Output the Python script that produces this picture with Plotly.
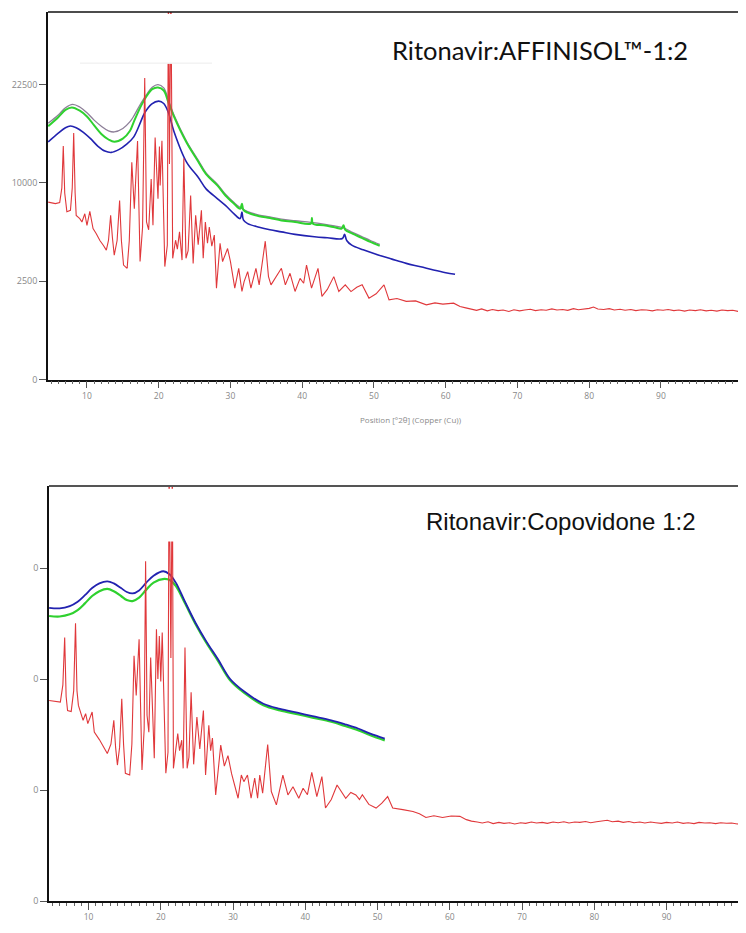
import numpy as np
import plotly.graph_objects as go

# ---------------- data (2theta in degrees, intensity in counts) ----------------
# Top panel: Ritonavir:AFFINISOL 1:2
top_red_x = [4.6, 5.6, 6.2, 6.5, 6.7, 6.9, 7.2, 7.7, 7.95, 8.15, 8.35, 8.5, 9.0, 9.3, 9.7, 10.0, 10.4, 10.85,
             11.3, 11.8, 12.3, 12.7, 13.0, 13.3, 13.55, 13.8, 14.2, 14.55, 14.8, 15.1, 15.6, 15.9, 16.25, 16.6,
             17.05, 17.4, 17.75, 18.05, 18.3, 18.6, 18.95, 19.2, 19.5, 19.9, 20.1, 20.2, 20.45, 20.85, 21.2,
             21.35, 21.5, 21.7, 21.95, 22.35, 22.6, 22.9, 23.25, 23.5, 23.8, 24.1, 24.45, 24.8, 25.15, 25.5,
             25.95, 26.2, 26.5, 26.8, 27.05, 27.4, 27.75, 28.05, 28.55, 28.9, 29.6, 30.0, 30.6, 31.15, 31.6,
             31.9, 32.4, 32.85, 33.55, 34.0, 34.85, 35.3, 35.65, 36.4, 37.1, 37.65, 38.3, 39.0, 39.7, 40.2,
             40.6, 41.3, 42.2, 42.75, 43.5, 44.4, 45.1, 46.0, 46.8, 47.6, 48.35, 49.3, 50.3, 51.4, 52.1, 53.2,
             54.5, 55.8, 57.3, 58.5, 59.6, 61.1, 62.0, 62.8, 63.5, 64.3, 65.0, 65.8, 66.5, 67.3, 68.0, 68.8,
             69.5, 70.3, 71.0, 71.8, 72.5, 73.3, 74.0, 74.8, 75.5, 76.3, 77.0, 77.8, 78.5, 79.3, 80.0, 80.6,
             81.2, 82.0, 82.8, 83.5, 84.3, 85.0, 85.8, 86.5, 87.3, 88.0, 88.8, 89.5, 90.3, 91.0, 91.8, 92.5,
             93.3, 94.0, 94.8, 95.5, 96.3, 97.0, 97.8, 98.5, 99.3, 100.0, 100.8, 101.5, 102.3]
top_red_y = [8140, 8000, 8100, 9500, 14100, 9000, 7290, 7400, 9500, 15700, 9000, 6970, 6700, 6420, 7110, 6150,
             7310, 5890, 5500, 5000, 4650, 4330, 5000, 6970, 5200, 4000, 5000, 8290, 5000, 3390, 3200, 5000,
             12200, 7550, 14700, 3600, 6000, 23500, 6420, 5800, 10400, 6150, 15140, 8450, 14040, 9730, 14730,
             3300, 4670, 40000, 12000, 40000, 3800, 5020, 4400, 5640, 3690, 12650, 3800, 4300, 8760, 3490,
             6970, 4700, 7400, 3800, 6420, 4800, 6020, 4600, 5400, 2160, 4800, 3600, 4440, 3600, 2160, 3200,
             2007, 2480, 3010, 2160, 3200, 2320, 4950, 2740, 2320, 2740, 3200, 2320, 2920, 2007, 2650, 2400,
             3390, 2160, 3200, 1790, 2100, 2740, 2007, 2320, 2000, 2200, 2320, 1715, 1900, 2320, 1645, 1700,
             1580, 1600, 1445, 1520, 1470, 1510, 1380, 1330, 1300, 1240, 1290, 1220, 1270, 1230, 1250, 1200,
             1260, 1220, 1250, 1280, 1230, 1260, 1240, 1290, 1250, 1270, 1240, 1300, 1260, 1280, 1310, 1360,
             1290, 1270, 1300, 1250, 1280, 1240, 1270, 1230, 1260, 1250, 1220, 1260, 1240, 1270, 1230, 1250,
             1210, 1250, 1230, 1260, 1220, 1240, 1210, 1250, 1230, 1240, 1200, 1240, 1220]

top_grey_x = [4.6, 6.0, 7.0, 8.0, 9.0, 10.0, 11.0, 12.0, 13.0, 13.8, 15.0, 16.0, 16.5, 17.5, 18.3, 19.1,
              19.9, 20.7, 21.3, 22.1, 23.9, 25.5, 26.6, 28.2, 29.3, 30.5, 31.35, 32.4, 34.0, 35.5, 37.1,
              39.0, 41.2, 43.0, 44.5, 46.0, 47.0, 48.3, 49.5, 50.8]
top_grey_y = [17000, 18100, 19100, 19580, 19200, 18400, 17400, 16600, 16000, 15850, 16300, 17200, 17900,
              19700, 21000, 22100, 22500, 22000, 20400, 18150, 14650, 12450, 11050, 9850, 8880, 8100, 7650,
              7300, 7000, 6850, 6650, 6520, 6390, 6250, 6100, 5900, 5600, 5290, 5000, 4730]

top_green_x = [4.6, 6.0, 7.0, 7.9, 9.0, 10.0, 11.0, 12.0, 13.0, 13.8, 15.0, 16.0, 16.5, 17.5, 18.3, 19.1,
               19.9, 20.7, 21.3, 22.1, 23.9, 25.5, 26.6, 28.2, 29.3, 30.5, 31.35, 31.6, 31.8, 32.4, 34.0,
               35.5, 37.1, 39.0, 41.2, 41.35, 41.5, 43.0, 44.5, 45.5, 45.75, 46.0, 47.0, 48.3, 49.5, 50.8]
top_green_y = [16600, 17800, 18800, 19150, 18700, 17900, 16700, 15600, 14900, 14610, 15000, 16000, 17100,
               19300, 20750, 21800, 22050, 21600, 20000, 17950, 14500, 12300, 10900, 9730, 8760, 8000, 7550,
               7990, 7450, 7200, 6900, 6750, 6550, 6420, 6290, 6750, 6270, 6150, 6000, 5900, 6150, 5800,
               5500, 5190, 4900, 4630]

top_blue_x = [4.6, 6.0, 7.0, 7.7, 8.5, 9.5, 10.5, 11.5, 12.5, 13.4, 14.5, 15.5, 16.5, 17.5, 18.0, 19.0,
              20.0, 20.7, 21.4, 22.1, 23.9, 25.5, 26.6, 28.2, 29.3, 30.5, 31.35, 31.6, 31.8, 32.4, 34.0,
              35.5, 37.1, 39.0, 41.7, 43.5, 45.6, 45.9, 46.2, 46.9, 48.5, 50.7, 52.5, 54.5, 56.5, 58.3,
              60.0, 61.3]
top_blue_y = [14600, 15700, 16400, 16620, 16400, 15800, 15000, 14100, 13500, 13340, 13700, 14300, 15200,
              17200, 18300, 19600, 20040, 19700, 18300, 15980, 12190, 10580, 9400, 8450, 7840, 7100, 6700,
              7260, 6600, 6290, 6000, 5800, 5640, 5450, 5270, 5200, 5140, 5450, 5000, 4670, 4350, 4000,
              3750, 3490, 3290, 3100, 2950, 2870]

# Bottom panel: Ritonavir:Copovidone 1:2
bot_red_x = [4.55, 5.6, 6.1, 6.45, 6.7, 6.9, 7.1, 7.6, 7.95, 8.2, 8.4, 8.6, 9.25, 9.6, 9.9, 10.5, 10.8,
             11.5, 12.1, 12.6, 13.1, 13.5, 13.75, 14.0, 14.3, 14.6, 14.85, 15.1, 15.7, 16.0, 16.3, 16.6,
             17.0, 17.4, 17.7, 17.9, 18.1, 18.35, 18.6, 19.0, 19.1, 19.4, 19.6, 19.8, 20.0, 20.2, 20.7,
             21.0, 21.15, 21.4, 21.6, 21.75, 22.35, 22.6, 22.9, 23.1, 23.35, 23.65, 23.9, 24.2, 24.55,
             25.0, 25.4, 25.9, 26.2, 26.65, 26.9, 27.15, 27.6, 28.3, 28.8, 29.3, 29.8, 30.7, 31.15, 31.5,
             32.0, 32.5, 33.0, 33.4, 33.7, 34.1, 34.8, 35.3, 36.0, 36.9, 37.6, 38.3, 39.1, 39.7, 40.3,
             40.9, 41.6, 42.3, 42.8, 43.6, 44.4, 45.6, 46.3, 47.0, 47.5, 47.9, 48.8, 49.8, 50.6, 51.4,
             52.1, 53.5, 54.9, 55.8, 56.7, 57.8, 59.0, 60.2, 61.4, 62.3, 63.0, 63.8, 64.5, 65.3, 66.0,
             66.8, 67.5, 68.3, 69.0, 69.8, 70.5, 71.3, 72.0, 72.8, 73.5, 74.3, 75.0, 75.8, 76.5, 77.3,
             78.0, 78.8, 79.5, 80.3, 81.0, 81.8, 82.5, 83.3, 84.0, 84.8, 85.5, 86.3, 87.0, 87.8, 88.5,
             89.3, 90.0, 90.8, 91.5, 92.3, 93.0, 93.8, 94.5, 95.3, 96.0, 96.8, 97.5, 98.3, 99.0, 99.8,
             100.5, 101.3]
bot_red_y = [8180, 8100, 8040, 9500, 14100, 8500, 7380, 7300, 9000, 15670, 9000, 7780, 6640, 7140, 6400,
             7260, 5810, 5300, 4800, 4430, 5000, 6640, 4800, 3760, 4800, 8310, 5000, 3320, 3230, 5000,
             12230, 8590, 13930, 3490, 6000, 23440, 7010, 5800, 12060, 5810, 4140, 15010, 10020, 14280,
             9800, 14640, 3320, 4500, 40000, 12000, 40000, 3580, 5700, 4600, 5260, 3580, 13060, 3580,
             4200, 8860, 3800, 6880, 4700, 7380, 3230, 6280, 4600, 5400, 2290, 4940, 3700, 4300, 3300,
             2150, 3230, 2900, 3230, 2150, 3070, 2150, 3230, 2370, 4980, 2440, 1880, 3230, 2290, 2660,
             2150, 2590, 2300, 3370, 2220, 3150, 1760, 2100, 2740, 2150, 2400, 2290, 2100, 2300, 1900,
             1760, 1950, 2220, 1760, 1700, 1630, 1550, 1420, 1480, 1420, 1470, 1460, 1350, 1300, 1270,
             1240, 1280, 1220, 1260, 1230, 1250, 1210, 1250, 1230, 1270, 1240, 1260, 1230, 1270, 1250,
             1280, 1240, 1270, 1260, 1290, 1250, 1280, 1300, 1330, 1280, 1300, 1260, 1290, 1250, 1270,
             1240, 1270, 1250, 1230, 1260, 1240, 1270, 1230, 1250, 1220, 1260, 1240, 1250, 1220, 1250,
             1230, 1240, 1210, 1240, 1230, 1220]

bot_blue_x = [4.55, 6.0, 7.4, 8.5, 9.5, 10.5, 11.5, 12.6, 13.5, 14.5, 15.3, 16.1, 17.0, 18.0, 19.0, 20.35,
              21.2, 22.1, 23.3, 24.8, 26.3, 27.9, 29.6, 31.6, 34.2, 36.5, 38.9, 41.0, 43.6, 45.5, 47.3,
              49.0, 51.0]
bot_blue_y = [17470, 17400, 17670, 18200, 19000, 19900, 20500, 20770, 20500, 19900, 19400, 19220, 19600,
              20600, 21500, 22090, 21700, 20560, 18300, 15740, 13700, 11900, 10020, 8900, 7910, 7500,
              7210, 6950, 6640, 6350, 6050, 5700, 5370]

bot_green_x = [4.55, 6.0, 7.4, 8.5, 9.5, 10.5, 11.5, 12.6, 13.5, 14.5, 15.3, 16.1, 17.0, 18.0, 19.0, 20.5,
               21.3, 22.1, 23.3, 24.8, 26.3, 27.9, 29.6, 31.6, 34.2, 36.5, 38.9, 41.0, 43.6, 45.5, 47.3,
               49.0, 51.0]
bot_green_y = [16510, 16450, 16700, 17200, 18000, 18900, 19500, 19790, 19500, 18900, 18400, 18280, 18700,
               19700, 20600, 21080, 20900, 20140, 18100, 15600, 13550, 11750, 9900, 8780, 7800, 7390,
               7100, 6840, 6530, 6230, 5930, 5590, 5250]

x_tick_vals = [10, 20, 30, 40, 50, 60, 70, 80, 90]
y_tick_counts = [0, 2500, 10000, 22500]
top_y_ticktext = ["0", "2500", "10000", "22500"]
bot_y_ticktext = ["0", "0", "0", "0"]
x_title = "Position [°2θ] (Copper (Cu))"
top_label = "Ritonavir:AFFINISOL™-1:2"
bot_label = "Ritonavir:Copovidone 1:2"

# ---------------- figure ----------------
# the page body adds an 8 px margin, so work in reference pixels and shift
OFF = 8
W, H = 746 - OFF, 933 - OFF

def px(p):
    return (p - OFF) / W

def py(p):
    return 1 - (p - OFF) / H

RED = "#e0383b"
GREEN = "#2fd12f"
BLUE = "#2222b0"
GREY = "#8d7f98"

fig = go.Figure()

def add(x, y, color, width, axis, shape="linear"):
    xa, ya = axis
    fig.add_trace(go.Scatter(x=x, y=np.sqrt(np.array(y, dtype=float)), mode="lines",
                             line=dict(color=color, width=width, shape=shape),
                             xaxis=xa, yaxis=ya, showlegend=False, hoverinfo="skip"))

add(top_grey_x, top_grey_y, GREY, 1.3, ("x", "y"), "spline")
add(top_green_x, top_green_y, GREEN, 2.0, ("x", "y"), "spline")
add(top_blue_x, top_blue_y, BLUE, 1.6, ("x", "y"), "spline")
add(top_red_x, top_red_y, RED, 1.1, ("x", "y"))

add(bot_green_x, bot_green_y, GREEN, 2.2, ("x2", "y2"), "spline")
add(bot_blue_x, bot_blue_y, BLUE, 1.8, ("x2", "y2"), "spline")
add(bot_red_x, bot_red_y, RED, 1.1, ("x2", "y2"))

tickfont = dict(family="Open Sans", size=8.5, color="#888888")
ytickfont = dict(family="Open Sans", size=9, color="#888888")

def xaxis_cfg(domain, rng, anchor):
    return dict(domain=domain, range=rng, anchor=anchor, showline=True, linecolor="#111111", linewidth=1.6,
                ticks="outside", ticklen=7, tickwidth=1, tickcolor="#555555",
                tickvals=x_tick_vals, ticktext=[str(v) for v in x_tick_vals],
                minor=dict(dtick=1, tick0=0, ticks="outside", ticklen=3, tickcolor="#666666", tickwidth=1),
                tickfont=tickfont, showgrid=False, zeroline=False)

def yaxis_cfg(domain, rng, anchor, ticktext):
    return dict(domain=domain, range=rng, anchor=anchor, showline=True, linecolor="#111111", linewidth=1.6,
                ticks="outside", ticklen=7, tickwidth=1, tickcolor="#555555",
                tickvals=list(np.sqrt(y_tick_counts)), ticktext=ticktext,
                tickfont=ytickfont, showgrid=False, zeroline=False)

fig.update_layout(
    width=W, height=H, margin=dict(l=0, r=0, t=0, b=0),
    paper_bgcolor="white", plot_bgcolor="white",
    xaxis=xaxis_cfg([px(48), 1], [4.57, 101.85], "y"),
    yaxis=yaxis_cfg([py(382), py(12)], [0, 186.9], "x", top_y_ticktext),
    xaxis2=xaxis_cfg([px(49), 1], [4.53, 101.0], "y2"),
    yaxis2=yaxis_cfg([py(907), py(489)], [0, 187.1], "x2", bot_y_ticktext),
)

shapes = [
    # top borders of the two frames
    dict(type="line", xref="paper", yref="paper", x0=px(48), x1=1, y0=py(12), y1=py(12),
         line=dict(color="#111111", width=1.6)),
    dict(type="line", xref="paper", yref="paper", x0=px(49), x1=1, y0=py(489), y1=py(489),
         line=dict(color="#555555", width=2)),
    # blank boxes hiding the top of the strongest peaks
    dict(type="rect", xref="paper", yref="paper", x0=px(80), x1=px(212), y0=py(64), y1=py(14),
         fillcolor="white", line=dict(width=0), layer="above"),
    dict(type="line", xref="paper", yref="paper", x0=px(80), x1=px(212), y0=py(63.5), y1=py(63.5),
         line=dict(color="#ececec", width=1), layer="above"),
    dict(type="rect", xref="paper", yref="paper", x0=px(80), x1=px(226), y0=py(545), y1=py(492),
         fillcolor="white", line=dict(width=0), layer="above"),
]
fig.update_layout(shapes=shapes)

fig.add_annotation(x=px(390), y=py(50), xref="paper", yref="paper", text=top_label, showarrow=False,
                   xanchor="left", yanchor="middle", font=dict(family="Lato", size=25.5, color="#111111"))
fig.add_annotation(x=px(424), y=py(525), xref="paper", yref="paper", text=bot_label, showarrow=False,
                   xanchor="left", yanchor="middle",
                   font=dict(family="Liberation Sans", size=24, color="#111111"))
fig.add_annotation(x=px(411), y=py(422), xref="paper", yref="paper", text=x_title, showarrow=False,
                   xanchor="center", yanchor="middle", font=dict(family="Open Sans", size=8, color="#8a8a8a"))

fig.write_html("out.html")
